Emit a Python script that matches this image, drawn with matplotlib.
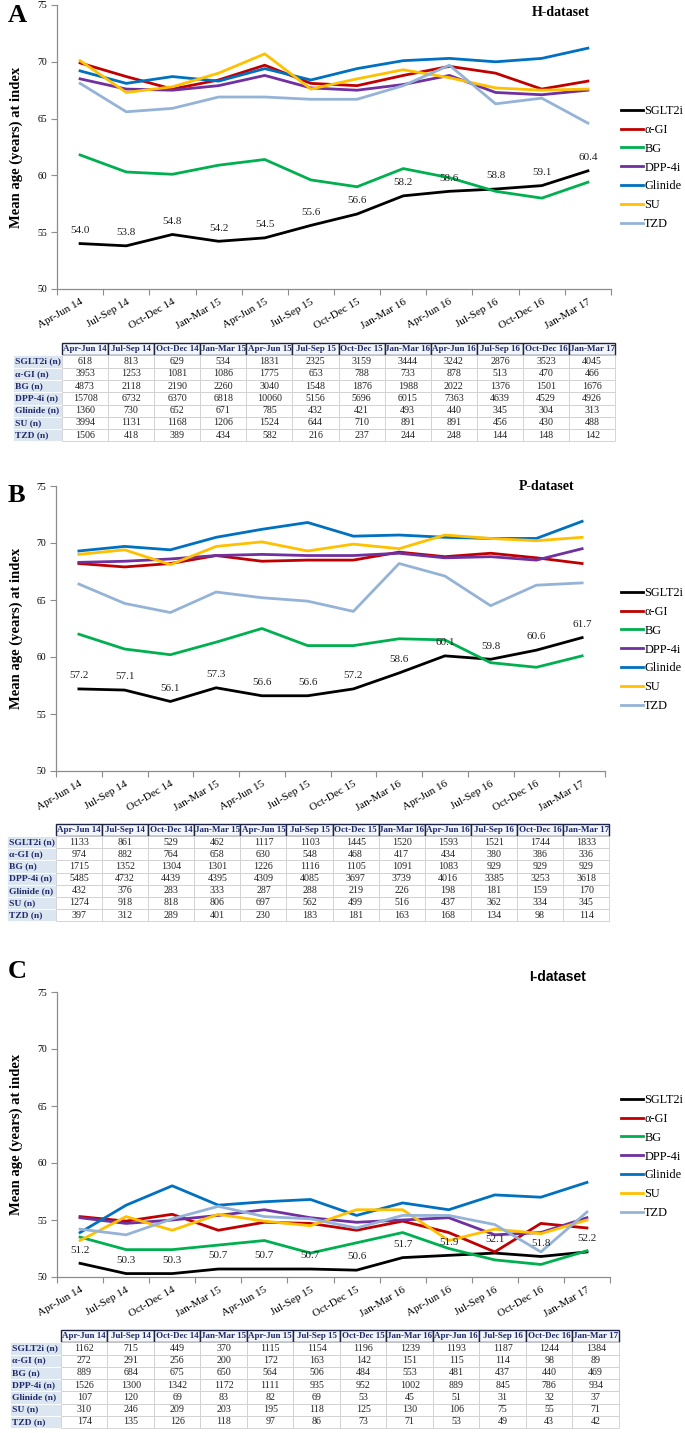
import numpy as np
import matplotlib
matplotlib.use("Agg")
import matplotlib.pyplot as plt
from matplotlib.patches import Rectangle

plt.rcParams['font.family'] = 'serif'
plt.rcParams['font.serif'] = ['Liberation Serif', 'DejaVu Serif']

# quarters on the x axis / table header
quarters = ['Apr-Jun 14', 'Jul-Sep 14', 'Oct-Dec 14', 'Jan-Mar 15', 'Apr-Jun 15', 'Jul-Sep 15',
            'Oct-Dec 15', 'Jan-Mar 16', 'Apr-Jun 16', 'Jul-Sep 16', 'Oct-Dec 16', 'Jan-Mar 17']
drugs = ['SGLT2i', 'α-GI', 'BG', 'DPP-4i', 'Glinide', 'SU', 'TZD']
row_labels = ['SGLT2i (n)', 'α-GI (n)', 'BG (n)', 'DPP-4i (n)', 'Glinide (n)', 'SU (n)', 'TZD (n)']
colors = ['#000000', '#C00000', '#00B050', '#7030A0', '#0070C0', '#FFC000', '#95B3D7']

# ---- H-dataset: mean age
h_sglt2i = [54.0, 53.8, 54.8, 54.2, 54.5, 55.6, 56.6, 58.2, 58.6, 58.8, 59.1, 60.4]
h_agi = [69.9, 68.7, 67.6, 68.4, 69.7, 68.1, 67.9, 68.8, 69.6, 69.0, 67.6, 68.3]
h_bg = [61.8, 60.3, 60.1, 60.9, 61.4, 59.6, 59.0, 60.6, 59.8, 58.6, 58.0, 59.4]
h_dpp4i = [68.5, 67.6, 67.5, 67.9, 68.8, 67.7, 67.5, 68.0, 68.8, 67.3, 67.1, 67.5]
h_glinide = [69.2, 68.1, 68.7, 68.3, 69.4, 68.4, 69.4, 70.1, 70.3, 70.0, 70.3, 71.2]
h_su = [70.1, 67.3, 67.8, 69.0, 70.7, 67.6, 68.5, 69.3, 68.6, 67.7, 67.5, 67.6]
h_tzd = [68.1, 65.6, 65.9, 66.9, 66.9, 66.7, 66.7, 67.9, 69.7, 66.3, 66.8, 64.6]

# ---- H-dataset: counts
h_n_sglt2i = [618, 813, 629, 534, 1831, 2325, 3159, 3444, 3242, 2876, 3523, 4045]
h_n_agi = [3953, 1253, 1081, 1086, 1775, 653, 788, 733, 878, 513, 470, 466]
h_n_bg = [4873, 2118, 2190, 2260, 3040, 1548, 1876, 1988, 2022, 1376, 1501, 1676]
h_n_dpp4i = [15708, 6732, 6370, 6818, 10060, 5156, 5696, 6015, 7363, 4639, 4529, 4926]
h_n_glinide = [1360, 730, 652, 671, 785, 432, 421, 493, 440, 345, 304, 313]
h_n_su = [3994, 1131, 1168, 1206, 1524, 644, 710, 891, 891, 456, 430, 488]
h_n_tzd = [1506, 418, 389, 434, 582, 216, 237, 244, 248, 144, 148, 142]

# ---- P-dataset: mean age
p_sglt2i = [57.2, 57.1, 56.1, 57.3, 56.6, 56.6, 57.2, 58.6, 60.1, 59.8, 60.6, 61.7]
p_agi = [68.2, 67.9, 68.2, 68.9, 68.4, 68.5, 68.5, 69.2, 68.8, 69.1, 68.7, 68.2]
p_bg = [62.0, 60.7, 60.2, 61.3, 62.5, 61.0, 61.0, 61.6, 61.5, 59.5, 59.1, 60.1]
p_dpp4i = [68.3, 68.4, 68.6, 68.9, 69.0, 68.9, 68.9, 69.1, 68.7, 68.8, 68.5, 69.5]
p_glinide = [69.3, 69.7, 69.4, 70.5, 71.2, 71.8, 70.6, 70.7, 70.5, 70.4, 70.4, 71.9]
p_su = [69.0, 69.4, 68.1, 69.7, 70.1, 69.3, 69.9, 69.5, 70.7, 70.4, 70.2, 70.5]
p_tzd = [66.4, 64.7, 63.9, 65.7, 65.2, 64.9, 64.0, 68.2, 67.1, 64.5, 66.3, 66.5]

# ---- P-dataset: counts
p_n_sglt2i = [1133, 861, 529, 462, 1117, 1103, 1445, 1520, 1593, 1521, 1744, 1833]
p_n_agi = [974, 882, 764, 658, 630, 548, 468, 417, 434, 380, 386, 336]
p_n_bg = [1715, 1352, 1304, 1301, 1226, 1116, 1105, 1091, 1083, 929, 929, 929]
p_n_dpp4i = [5485, 4732, 4439, 4395, 4309, 4085, 3697, 3739, 4016, 3385, 3253, 3618]
p_n_glinide = [432, 376, 283, 333, 287, 288, 219, 226, 198, 181, 159, 170]
p_n_su = [1274, 918, 818, 806, 697, 562, 499, 516, 437, 362, 334, 345]
p_n_tzd = [397, 312, 289, 401, 230, 183, 181, 163, 168, 134, 98, 114]

# ---- I-dataset: mean age
i_sglt2i = [51.2, 50.3, 50.3, 50.7, 50.7, 50.7, 50.6, 51.7, 51.9, 52.1, 51.8, 52.2]
i_agi = [55.3, 54.9, 55.5, 54.1, 54.8, 54.7, 54.1, 54.9, 53.9, 52.2, 54.7, 54.3]
i_bg = [53.5, 52.4, 52.4, 52.8, 53.2, 52.1, 53.0, 53.9, 52.5, 51.5, 51.1, 52.3]
i_dpp4i = [55.2, 54.7, 55.0, 55.4, 55.9, 55.2, 54.8, 55.0, 55.2, 53.7, 53.9, 55.2]
i_glinide = [53.9, 56.3, 58.0, 56.3, 56.6, 56.8, 55.4, 56.5, 55.9, 57.2, 57.0, 58.3]
i_su = [53.2, 55.3, 54.1, 55.5, 54.9, 54.5, 55.9, 55.9, 53.2, 54.2, 53.8, 55.0]
i_tzd = [54.2, 53.7, 55.1, 56.2, 55.3, 55.1, 54.3, 55.4, 55.4, 54.6, 52.2, 55.7]

# ---- I-dataset: counts
i_n_sglt2i = [1162, 715, 449, 370, 1115, 1154, 1196, 1239, 1193, 1187, 1244, 1384]
i_n_agi = [272, 291, 256, 200, 172, 163, 142, 151, 115, 114, 98, 89]
i_n_bg = [889, 684, 675, 650, 564, 506, 484, 553, 481, 437, 440, 469]
i_n_dpp4i = [1526, 1300, 1342, 1172, 1111, 935, 952, 1002, 889, 845, 786, 934]
i_n_glinide = [107, 120, 69, 83, 82, 69, 53, 45, 51, 31, 32, 37]
i_n_su = [310, 246, 209, 203, 195, 118, 125, 130, 106, 75, 55, 71]
i_n_tzd = [174, 135, 126, 118, 97, 86, 73, 71, 53, 49, 43, 42]

W, H = 685, 1433
fig = plt.figure(figsize=(W / 100, H / 100), dpi=100)

# full-figure axes in pixel units, used for the tables
tab = fig.add_axes([0, 0, 1, 1])
tab.set_xlim(0, W)
tab.set_ylim(H, 0)
tab.axis('off')

NAVY = '#1F2A6B'


def panel(box, letter, letter_y, title, title_xy, title_family, series, legend_top):
    l, t, r, b = box
    ax = fig.add_axes([l / W, 1 - b / H, (r - l) / W, (b - t) / H])
    x = np.arange(len(quarters))
    for name, vals, c in zip(drugs, series, colors):
        ax.plot(x, vals, color=c, lw=2.0, label=name)
    for xi, v in zip(x, series[0]):
        ax.annotate(f'{v:.1f}', (xi, v), xytext=(0, 9.5), textcoords='offset points',
                    ha='center', va='center', fontsize=8, color='#222222')
    ax.set_xlim(-0.5, len(quarters) - 0.5)
    ax.set_ylim(50, 75)
    ax.set_yticks(range(50, 76, 5))
    ax.set_xticks(np.arange(-0.5, len(quarters), 1))
    ax.set_xticklabels([])
    ax.set_xticks(x, minor=True)
    ax.set_xticklabels(quarters, minor=True, rotation=30, ha='right', va='top',
                       rotation_mode='anchor', fontsize=8)
    ax.tick_params(axis='x', which='minor', length=0, pad=6)
    ax.tick_params(axis='x', which='major', length=4, color='#8c8c8c')
    ax.tick_params(axis='y', length=4, color='#8c8c8c', labelsize=7, pad=3)
    for s in ['top', 'right']:
        ax.spines[s].set_visible(False)
    for s in ['left', 'bottom']:
        ax.spines[s].set_color('#8c8c8c')
        ax.spines[s].set_linewidth(0.9)
    ax.set_facecolor('none')

    fig.text(16 / W, 1 - (t + b) / 2 / H, 'Mean age (years) at index', rotation=90,
             ha='center', va='center', fontsize=10.5, fontweight='bold')
    fig.text(8 / W, 1 - letter_y / H, letter, fontsize=19, fontweight='bold', va='center')
    fig.text(title_xy[0] / W, 1 - title_xy[1] / H, title, ha='center', va='center',
             fontsize=10, fontweight='bold', family=title_family)
    ax.legend(loc='upper left', bbox_to_anchor=(621 / W, 1 - legend_top / H),
              bbox_transform=fig.transFigure, frameon=False, fontsize=8.8,
              handlelength=1.8, handletextpad=0.1, labelspacing=0.56,
              borderpad=0, borderaxespad=0)
    return ax


def table(x0, lab_x, top, col_w, row_h, counts):
    # header
    for j, q in enumerate(quarters):
        cx = x0 + j * col_w
        tab.add_patch(Rectangle((cx, top), col_w, row_h, facecolor='#F3F6FB',
                                edgecolor='#1C2340', lw=1.0))
        tab.text(cx + col_w / 2, top + row_h / 2, q, ha='center', va='center',
                 fontsize=6.5, fontweight='bold', color=NAVY)
    for i, (lab, vals) in enumerate(zip(row_labels, counts)):
        ry = top + (i + 1) * row_h
        tab.add_patch(Rectangle((lab_x, ry), x0 - lab_x, row_h, facecolor='#DCE6F1',
                                edgecolor='white', lw=0.6))
        tab.text(lab_x + 2, ry + row_h / 2, lab, ha='left', va='center',
                 fontsize=6.8, fontweight='bold', color=NAVY)
        for j, v in enumerate(vals):
            cx = x0 + j * col_w
            tab.add_patch(Rectangle((cx, ry), col_w, row_h, facecolor='white',
                                    edgecolor='#CFCFCF', lw=0.6))
            tab.text(cx + col_w / 2, ry + row_h / 2, str(v), ha='center', va='center',
                     fontsize=7.2, color='#222222')


# A: H-dataset
panel((57, 5, 611, 289), 'A', 16, 'H-dataset', (561, 13), 'Liberation Serif',
      [h_sglt2i, h_agi, h_bg, h_dpp4i, h_glinide, h_su, h_tzd], 105)
table(62, 13, 343, 46.1, 12.3,
      [h_n_sglt2i, h_n_agi, h_n_bg, h_n_dpp4i, h_n_glinide, h_n_su, h_n_tzd])

# B: P-dataset
panel((56, 486, 605, 771), 'B', 495, 'P-dataset', (547, 487), 'Liberation Serif',
      [p_sglt2i, p_agi, p_bg, p_dpp4i, p_glinide, p_su, p_tzd], 587)
table(56, 7, 824, 46.1, 12.15,
      [p_n_sglt2i, p_n_agi, p_n_bg, p_n_dpp4i, p_n_glinide, p_n_su, p_n_tzd])

# C: I-dataset
panel((57, 992, 610, 1277), 'C', 971, 'I-dataset', (558, 977), 'Liberation Sans',
      [i_sglt2i, i_agi, i_bg, i_dpp4i, i_glinide, i_su, i_tzd], 1094)
table(61, 10, 1330, 46.5, 12.25,
      [i_n_sglt2i, i_n_agi, i_n_bg, i_n_dpp4i, i_n_glinide, i_n_su, i_n_tzd])

fig.savefig('out.png', dpi=100)
